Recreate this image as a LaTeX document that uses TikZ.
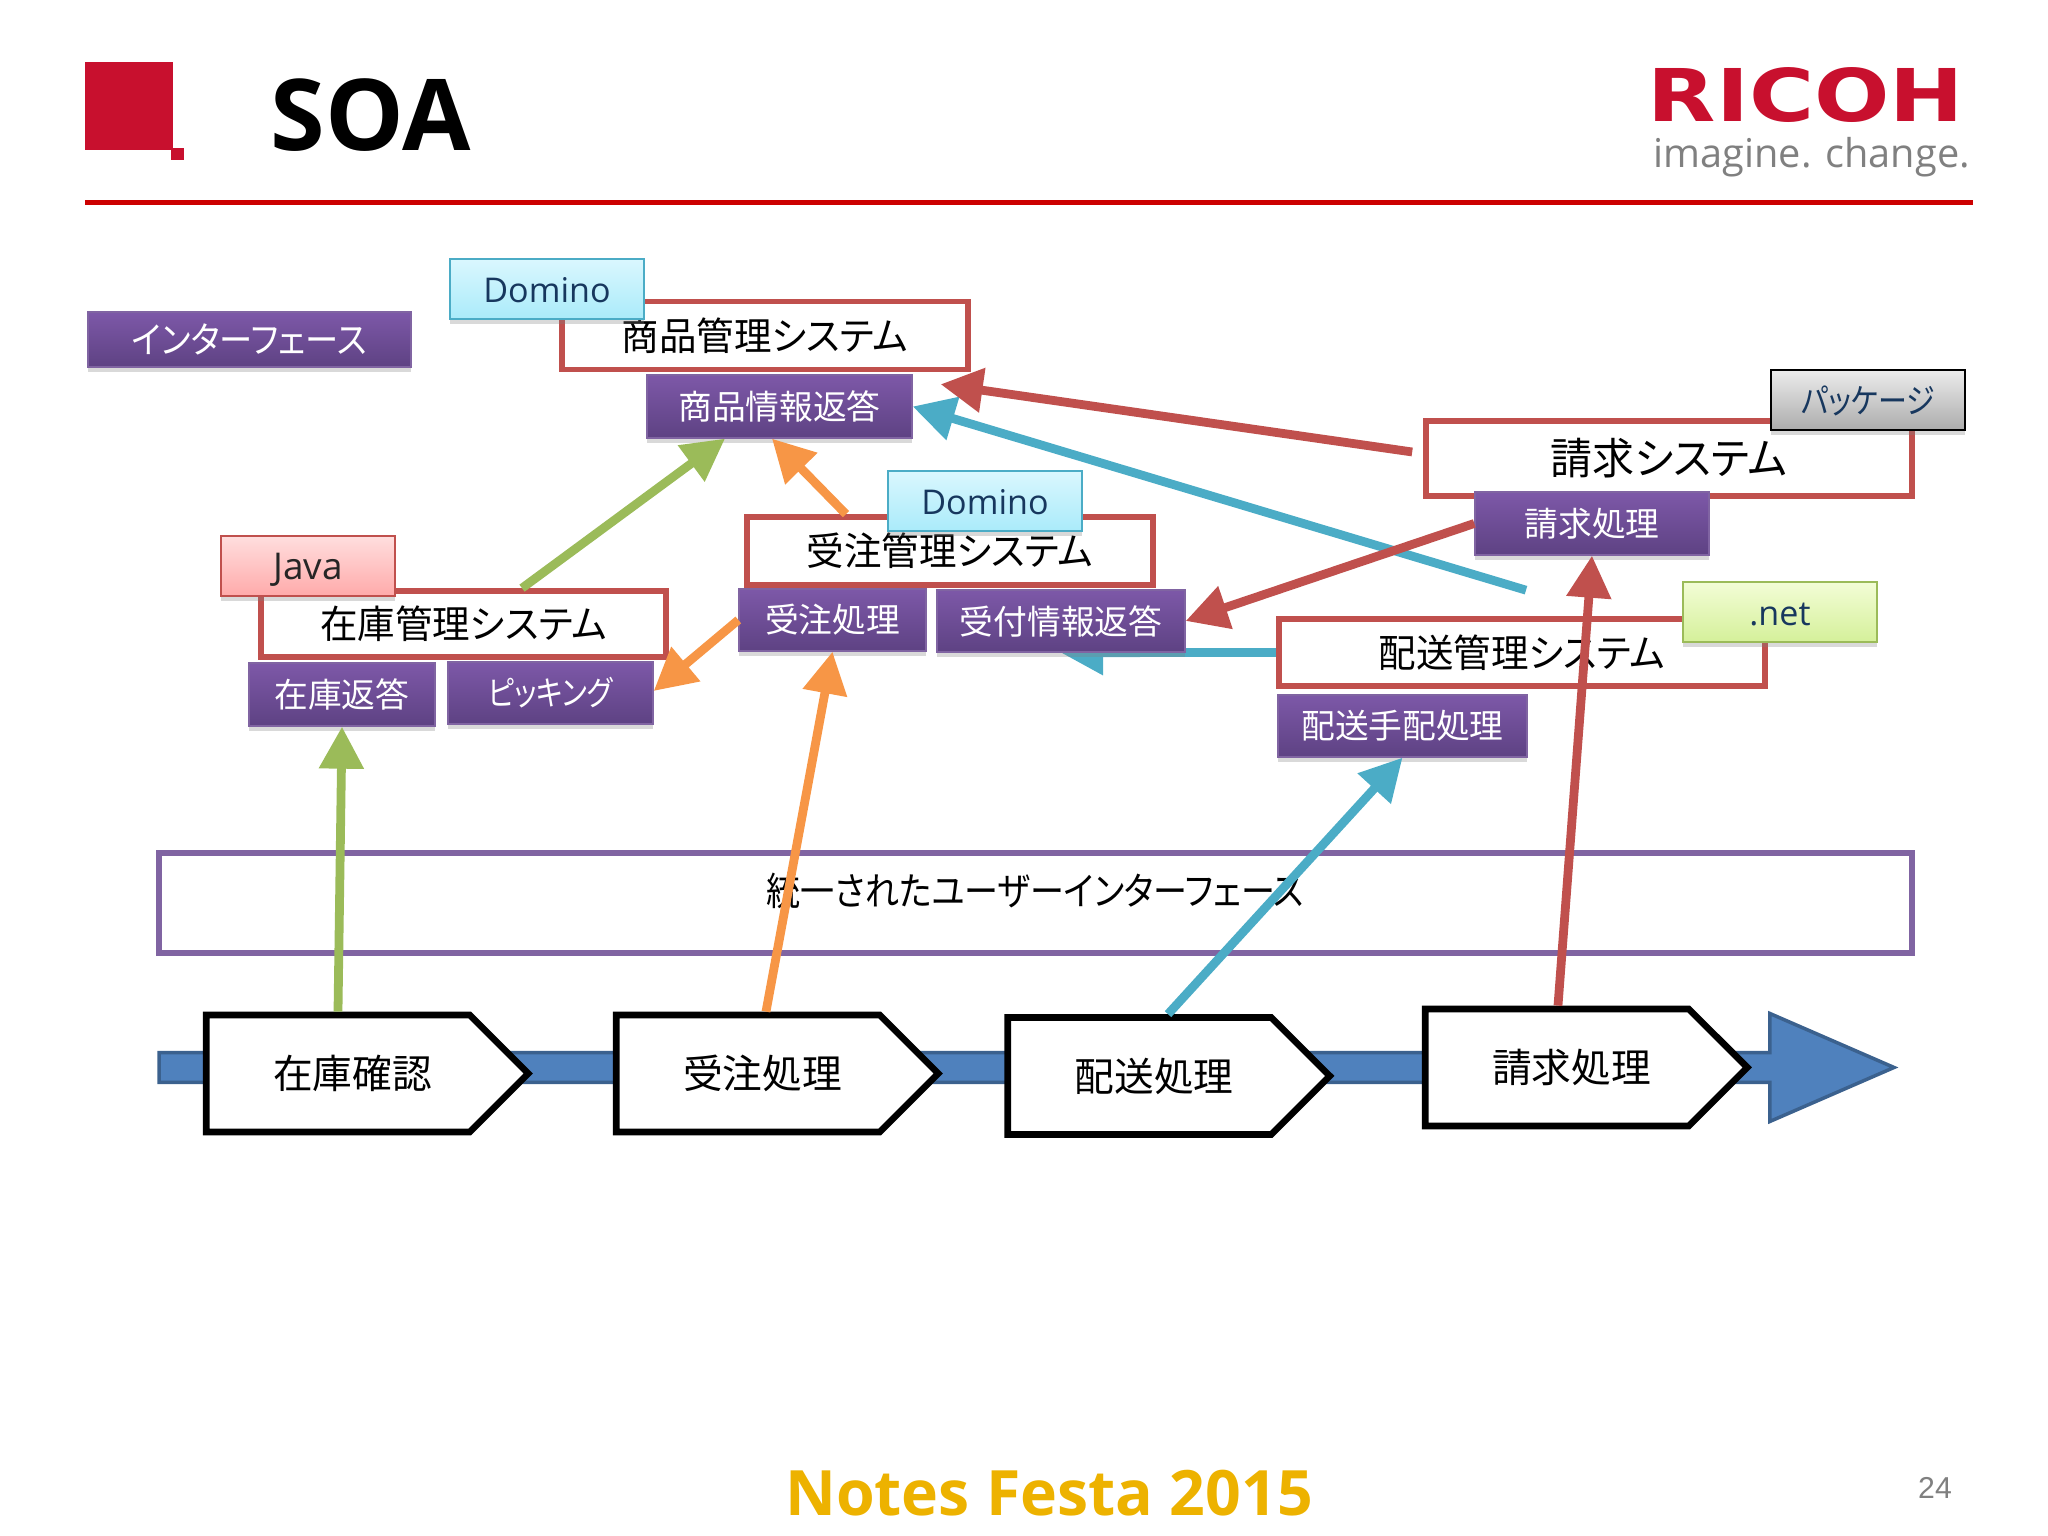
\documentclass[tikz,border=0pt]{standalone}
\usepackage{fontspec}
\usepackage{xcolor}
\setmainfont{Open Sans}
\newfontfamily\jpfont[RawFeature=+palt]{Noto Sans CJK JP}
\newfontfamily\headfont{DejaVu Sans}
\newfontfamily\numfont{Liberation Sans}
\usetikzlibrary{arrows.meta,backgrounds,shadows,shapes.arrows,shapes.symbols}
\definecolor{ricohred}{HTML}{C8102E}
\definecolor{linered}{HTML}{CC0000}
\definecolor{syspurple}{HTML}{8064A2}
\definecolor{iftop}{HTML}{7D58A8}
\definecolor{ifbottom}{HTML}{5E4283}
\definecolor{sysred}{HTML}{C0504D}
\definecolor{sysgreen}{HTML}{9BBB59}
\definecolor{sysorange}{HTML}{F79646}
\definecolor{sysblue}{HTML}{4BACC6}
\definecolor{barblue}{HTML}{4F81BD}
\definecolor{tagtext}{HTML}{17375E}
\definecolor{footgold}{HTML}{EDB200}
\newcommand{\narrowtext}[2][.97]{\scalebox{#1}[1]{#2}}

\begin{document}
\begin{tikzpicture}[
    softshadow/.style={drop shadow={shadow xshift=0cm,shadow yshift=-0.05cm,opacity=.3,fill=gray}},
    sysbox/.style={draw=sysred, line width=1.6pt, fill=white, inner sep=0pt, font=\jpfont\fontsize{11}{13}\selectfont},
    ifbox/.style={draw=syspurple, line width=.4pt, top color=iftop, bottom color=ifbottom, text=white, inner sep=0pt, softshadow, font=\jpfont\fontsize{9.6}{11}\selectfont},
    tagbox/.style={line width=.5pt, minimum width=1.94cm, minimum height=.60cm, inner sep=0pt, text height=.28cm, text depth=0cm, softshadow, text=tagtext, font=\fontsize{9.7}{11}\selectfont},
    dominotag/.style={tagbox, draw=sysblue, top color={rgb,255:red,218;green,247;blue,254}, bottom color={rgb,255:red,170;green,235;blue,250}},
    flowbox/.style={signal, signal to=east, signal pointer angle=90, draw=black, line width=1.9pt, fill=white, inner sep=0pt, minimum width=3.22cm, minimum height=1.17cm, execute at begin node=\hspace*{.29cm}, font=\jpfont\fontsize{11.3}{13}\selectfont},
    link/.style={line width=2.5pt, -{Triangle[length=.42cm,width=.43cm]}},
    greenlink/.style={link, draw=sysgreen, fill=sysgreen},
    orangelink/.style={link, draw=sysorange, fill=sysorange},
    bluelink/.style={link, draw=sysblue, fill=sysblue},
    redlink/.style={link, draw=sysred, fill=sysred}]
    \useasboundingbox (0,0) rectangle (20.48,15.36);

    \fill[ricohred] (0.85,14.74) rectangle (1.73,13.86);
    \fill[ricohred] (1.71,13.88) rectangle (1.84,13.76);
    \draw[linered, line width=1.4pt] (0.85,13.335) -- (19.73,13.335);
    \node[anchor=base west, inner sep=0pt, font=\bfseries\fontsize{28.2}{32}\selectfont] (title) at (2.70,13.85) {SOA};
    \node[anchor=base west, inner sep=0pt, text=ricohred, xscale=1.22, transform shape, font=\headfont\bfseries\fontsize{20.7}{24}\selectfont] (logo) at (16.47,14.14) {RICOH};
    \node[anchor=base west, inner sep=0pt, text=gray, font=\fontsize{11.3}{13}\selectfont] (slogan) at (16.53,13.68) {imagine. change.};

    \node[ifbox, minimum width=3.23cm, minimum height=.55cm] (ifkey) at (2.495,11.965) {\fontsize{10.4}{12}\selectfont\narrowtext[.91]{インターフェース}};

    \node[sysbox, minimum width=4.06cm, minimum height=.68cm] (shohinsys) at (7.65,12.005) {\narrowtext{商品管理システム}};
    \node[dominotag] (domino) at (5.47,12.47) {Domino};
    \node[ifbox, minimum width=2.65cm, minimum height=.63cm] (shohinif) at (7.795,11.295) {商品情報返答};

    \node[sysbox, minimum width=4.06cm, minimum height=.68cm] (juchusys) at (9.50,9.85) {\narrowtext{受注管理システム}};
    \node[dominotag] (dominob) at (9.85,10.35) {Domino};
    \node[ifbox, minimum width=1.87cm, minimum height=.62cm] (juchuif) at (8.325,9.16) {受注処理};
    \node[ifbox, minimum width=2.48cm, minimum height=.62cm] (uketsukeif) at (10.61,9.15) {受付情報返答};

    \node[sysbox, minimum width=4.05cm, minimum height=.66cm] (zaikosys) at (4.635,9.12) {\narrowtext{在庫管理システム}};
    \node[tagbox, draw=sysred, minimum width=1.74cm, top color={rgb,255:red,255;green,222;blue,222}, bottom color={rgb,255:red,255;green,170;blue,170}, text=black!85, font=\fontsize{10.5}{12}\selectfont] (java) at (3.08,9.70) {Java};
    \node[ifbox, minimum width=1.86cm, minimum height=.63cm] (zaikoif) at (3.42,8.415) {在庫返答};
    \node[ifbox, minimum width=2.05cm, minimum height=.62cm] (pickif) at (5.505,8.43) {\narrowtext[.84]{ピッキング}};

    \node[sysbox, minimum width=4.86cm, minimum height=.75cm] (seikyusys) at (16.69,10.775) {\fontsize{12.3}{14}\selectfont\narrowtext{請求システム}};
    \node[tagbox, draw=black, top color=gray!15, bottom color=gray!65] (pkg) at (18.68,11.36) {\jpfont\narrowtext[.85]{パッケージ}};
    \node[ifbox, minimum width=2.34cm, minimum height=.63cm] (seikyuif) at (15.92,10.125) {請求処理};

    \node[sysbox, minimum width=4.86cm, minimum height=.67cm] (haisosys) at (15.22,8.835) {\narrowtext{配送管理システム}};
    \node[tagbox, draw=sysgreen, top color={rgb,255:red,243;green,253;blue,214}, bottom color={rgb,255:red,213;green,240;blue,154}] (dotnet) at (17.80,9.24) {.net};
    \node[ifbox, minimum width=2.49cm, minimum height=.62cm] (haisoif) at (14.025,8.10) {配送手配処理};

    \node[draw=syspurple, line width=1.6pt, fill=white, minimum width=17.53cm, minimum height=1cm, inner sep=0pt, font=\jpfont\fontsize{11}{13}\selectfont] (uibar) at (10.355,6.33) {\raisebox{.27cm}{\narrowtext[.88]{統一されたユーザーインターフェース}}};

    \node[single arrow, draw=barblue!75!black, fill=barblue, line width=1pt, minimum height=17.35cm, minimum width=1.08cm, inner xsep=0pt, inner ysep=.13cm, single arrow head extend=.39cm, single arrow tip angle=47] (flow) at (10.095,4.685) {};

    \node[flowbox] (zaikochk) at (3.38,4.625) {在庫確認};
    \node[flowbox] (juchuchk) at (7.48,4.625) {受注処理};
    \node[flowbox] (haisochk) at (11.395,4.60) {配送処理};
    \node[flowbox] (seikyuchk) at (15.57,4.685) {請求処理};

    \node[inner sep=0pt, text=footgold, font=\bfseries\fontsize{17.8}{20}\selectfont] (footer) at (10.49,0.43) {Notes Festa 2015};
    \node[inner sep=0pt, text=gray, font=\numfont\fontsize{8.6}{10}\selectfont] (pageno) at (19.35,0.48) {24};

    \begin{pgfonlayer}{background}
        \draw[bluelink] (haisosys.west) -- (uketsukeif.south);
    \end{pgfonlayer}
    \draw[greenlink] (zaikochk.north) -- (zaikoif.south);
    \draw[greenlink] ([xshift=.585cm]zaikosys.north) -- ([xshift=-.545cm]shohinif.south);
    \draw[orangelink] ([xshift=-1.04cm]juchusys.north) -- ([xshift=-.075cm]shohinif.south);
    \draw[orangelink] (juchuif.west) -- ([yshift=.02cm]pickif.east);
    \draw[orangelink] ([xshift=.18cm]juchuchk.north) -- (juchuif.south);
    \draw[bluelink] ([shift={(.04,.26)}]haisosys.north) -- (shohinif.east);
    \draw[bluelink] ([xshift=.285cm]haisochk.north) -- (haisoif.south);
    \draw[redlink] ([shift={(-.11,.065)}]seikyusys.west) -- ([shift={(.28,-.10)}]shohinif.north east);
    \draw[redlink] (seikyuif.west) -- (uketsukeif.east);
    \draw[redlink] ([xshift=.01cm]seikyuchk.north) -- (seikyuif.south);
\end{tikzpicture}
\end{document}
